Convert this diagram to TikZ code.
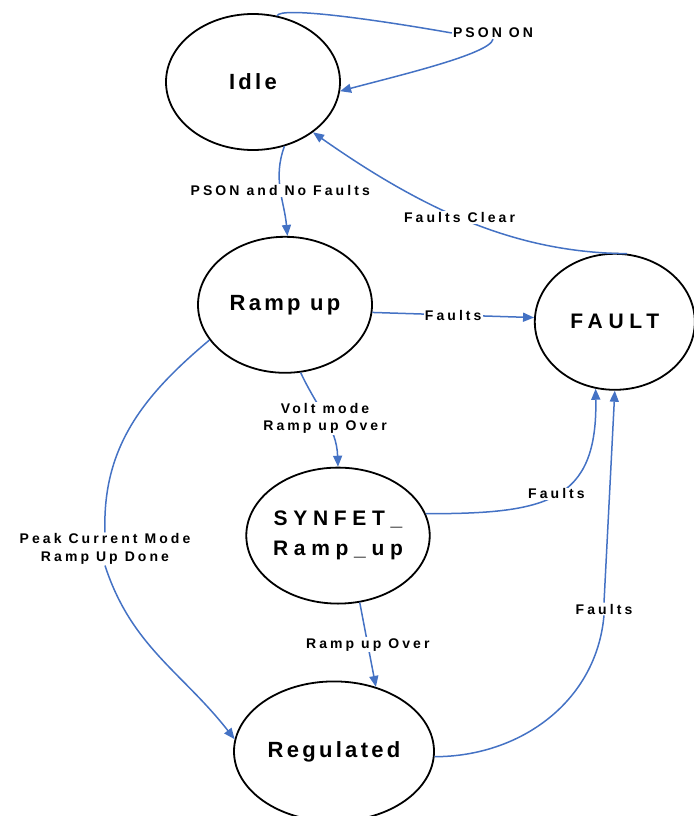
\documentclass[tikz,border=0pt]{standalone}
\usepackage{fontspec}
\setmainfont{Liberation Sans}
\usetikzlibrary{%
  shapes,arrows.meta,positioning,calc}
\definecolor{edgeblue}{RGB}{68,114,196}
\newfontfamily\statefont[LetterSpace=15]{Liberation Sans}
\newfontfamily\widefont[LetterSpace=27]{Liberation Sans}
\newfontfamily\lblfont[LetterSpace=22]{Liberation Sans}
\tikzstyle{line} = [draw=edgeblue, -{Triangle[length=11pt,width=9pt]}, line width=1.5pt, fill=none]
\tikzstyle{wire} = [draw=edgeblue, line width=1.5pt, fill=none]

\begin{document}
\begin{tikzpicture}[
    x=1pt, y=1pt,
    state/.style={
      draw,
      ellipse,
      line width=1.8pt,
      minimum width=174pt,
      minimum height=136pt,
      inner sep=0pt,
      align=center,
      font=\statefont\bfseries\fontsize{22}{30}\selectfont
    },
    wide/.style={
      font=\widefont\bfseries\fontsize{21}{30}\selectfont
    },
    lbl/.style={
      fill=white,
      inner sep=1pt,
      align=center,
      font=\lblfont\bfseries\fontsize{14}{17.6}\selectfont
    }
  ]

  \useasboundingbox (0,0) rectangle (693,-816);

  \node[state] (idle) at (253,-82) {Idle};
  \node[state,below=85pt of idle,xshift=32pt] (ramp) {Ramp up};
  \node[state,wide,right=161pt of ramp,yshift=-17pt,minimum width=160pt] (fault) {FAULT};
  \node[state,wide,below=93pt of ramp,xshift=53pt] (synfet) {SYNFET\_\\Ramp\_up};
  \node[state,below=76pt of synfet,xshift=-4pt,minimum width=200pt,minimum height=140pt] (reg) {Regulated};

  \node[lbl] (psonon) at (493,-33) {PSON ON};
  \node[lbl] (peak) at (105,-549) {Peak Current Mode\\Ramp Up Done};
  \node[lbl] (f3) at (604,-609) {Faults};

  % self loop on idle
  \draw[wire] (idle.70) .. controls +(70:10) and +(170:80) .. (psonon.west);
  \draw[line] (psonon.south) .. controls +(-100:15) and +(15:60) .. (idle.-6);

  \draw[line] (idle.-64) to[out=-110,in=95] node[lbl] (psonnf) {PSON and No Faults} (ramp.88);
  \draw[line] (fault.80) .. controls +(-105,1) and +(118,-83) .. node[lbl,pos=0.55] (fclear) {Faults Clear} (idle.-40);
  \draw[line] (ramp.-5) -- node[lbl] (f1) {Faults} (fault.177);
  \draw[line] (ramp.-77) to[out=-65,in=92] node[lbl] (voltmode) {Volt mode\\Ramp up Over} (synfet.north);

  \draw[wire] (ramp.-155) to[out=-140,in=92] (peak.north);
  \draw[line] (peak.south) to[out=-72,in=128] (reg.173);

  \draw[line] (synfet.14) .. controls +(120,0) and +(2,-114) .. node[lbl] (f2) {Faults} (fault.-106);
  \draw[line] (synfet.-72) -- node[lbl] (rover) {Ramp up Over} (reg.57);

  \draw[wire] (reg.-3) to[out=0,in=-95] (f3.south);
  \draw[line] (f3.north) -- (fault.-90);

\end{tikzpicture}
\end{document}
